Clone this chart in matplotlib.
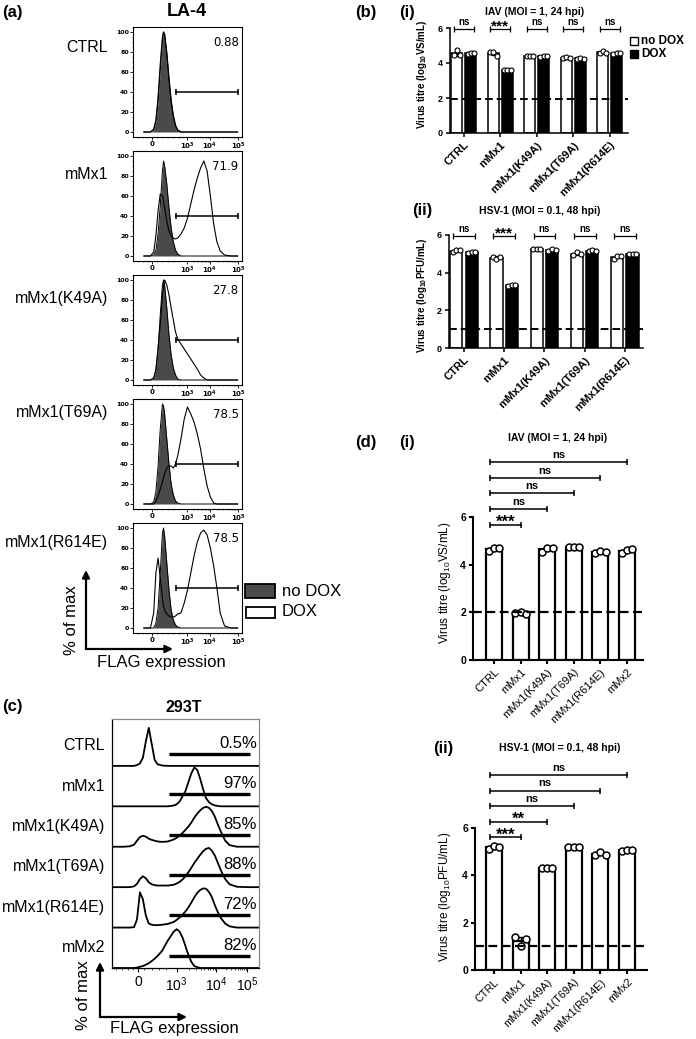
import numpy as np
import matplotlib.pyplot as plt
from matplotlib.patches import Rectangle

plt.rcParams['font.family'] = ['Liberation Sans', 'DejaVu Sans']
plt.rcParams['mathtext.fontset'] = 'custom'
plt.rcParams['mathtext.rm'] = 'Liberation Sans'
plt.rcParams['mathtext.bf'] = 'Liberation Sans:bold'
plt.rcParams['mathtext.default'] = 'regular'

W, H = 696, 1039

# ---- (a) LA-4 flow histograms (x in % of axis width, y in % of max)
a_samples = ['CTRL', 'mMx1', 'mMx1(K49A)', 'mMx1(T69A)', 'mMx1(R614E)']
a_gate_pct = ['0.88', '71.9', '27.8', '78.5', '78.5']
a_x = [10, 16, 19, 21, 23, 25, 27, 28, 29, 31, 33, 35, 37, 39, 41, 44,
       47, 50, 53, 56, 59, 62, 65, 68, 71, 74, 77, 80, 84, 90, 96]
a_nodox = [
    [0, 0, 2, 10, 30, 62, 92, 100, 97, 78, 52, 30, 15, 6, 2, 0] + [0] * 15,
    [0, 0, 1, 6, 22, 50, 85, 95, 90, 72, 48, 28, 14, 6, 2, 0] + [0] * 15,
    [0, 0, 2, 10, 30, 65, 95, 100, 95, 72, 45, 25, 12, 5, 1, 0] + [0] * 15,
    [0, 0, 2, 12, 38, 75, 100, 98, 90, 65, 40, 20, 9, 3, 1, 0] + [0] * 15,
    [0, 0, 0, 5, 20, 55, 95, 100, 92, 65, 38, 18, 8, 3, 1, 0] + [0] * 15,
]
a_dox = [
    [0, 0, 3, 12, 35, 68, 95, 100, 98, 80, 55, 32, 17, 7, 2, 0] + [0] * 15,
    [0, 0, 4, 20, 45, 62, 60, 55, 48, 35, 25, 20, 18, 17, 18, 22,
     28, 38, 52, 66, 78, 88, 95, 85, 60, 32, 14, 5, 1, 0, 0],
    [0, 0, 2, 10, 32, 55, 85, 95, 100, 95, 85, 72, 60, 48, 41, 36,
     31, 26, 21, 16, 11, 5, 2, 0, 0, 0, 0, 0, 0, 0, 0],
    [0, 0, 0, 3, 8, 15, 22, 26, 30, 36, 38, 38, 36, 40, 48, 65,
     85, 97, 90, 82, 70, 55, 35, 18, 7, 1, 0, 0, 0, 0, 0],
    [0, 0, 15, 55, 70, 50, 30, 22, 18, 14, 12, 11, 11, 12, 14, 15,
     25, 38, 55, 72, 86, 95, 98, 93, 80, 62, 40, 15, 2, 0, 0],
]
a_ticklabels = ['0', '$10^3$', '$10^4$', '$10^5$']

# ---- (c) 293T stacked histograms (y as fraction of row height)
c_samples = ['CTRL', 'mMx1', 'mMx1(K49A)', 'mMx1(T69A)', 'mMx1(R614E)', 'mMx2']
c_gate_pct = ['0.5%', '97%', '85%', '88%', '72%', '82%']
c_x = [0, 8, 12, 15, 17, 19, 21, 23, 25, 27, 29, 31, 34, 38, 42, 44, 46, 48,
       50, 52, 54, 56, 58, 60, 62, 64, 66, 68, 70, 72, 74, 77, 80, 85, 92, 100]
c_curves = [
    [0, 0, 0, 0, 0.02, 0.06, 0.2, 0.6, 0.94, 0.55, 0.15, 0.04, 0.01] + [0] * 23,
    [0] * 14 + [0.02, 0.05, 0.12, 0.25, 0.38, 0.6, 0.82, 0.96, 0.9, 0.68,
                0.42, 0.2, 0.1, 0.05, 0.02, 0.01, 0, 0, 0, 0, 0, 0],
    [0, 0, 0.01, 0.05, 0.15, 0.24, 0.27, 0.25, 0.2, 0.17, 0.15, 0.13, 0.12, 0.13,
     0.18, 0.22, 0.28, 0.34, 0.42, 0.5, 0.6, 0.72, 0.82, 0.9, 0.96, 0.99, 0.96,
     0.88, 0.74, 0.55, 0.38, 0.15, 0.04, 0, 0, 0],
    [0, 0, 0, 0.02, 0.08, 0.2, 0.27, 0.22, 0.12, 0.07, 0.05, 0.04, 0.04, 0.04,
     0.06, 0.09, 0.13, 0.19, 0.27, 0.37, 0.48, 0.6, 0.7, 0.8, 0.89, 0.95, 0.97,
     0.9, 0.78, 0.6, 0.42, 0.2, 0.07, 0.01, 0, 0],
    [0, 0, 0, 0.01, 0.2, 0.87, 0.7, 0.3, 0.1, 0.07, 0.06, 0.06, 0.07, 0.09,
     0.14, 0.19, 0.25, 0.32, 0.4, 0.5, 0.62, 0.75, 0.86, 0.93, 0.97, 0.96, 0.88,
     0.75, 0.55, 0.38, 0.24, 0.1, 0.03, 0, 0, 0],
    [0, 0, 0, 0, 0.01, 0.03, 0.05, 0.08, 0.12, 0.17, 0.23, 0.3, 0.42, 0.68,
     0.9, 0.96, 0.9, 0.75, 0.54, 0.32, 0.15, 0.05, 0.02, 0] + [0] * 12,
]

# ---- (b) virus titres, no DOX vs DOX
b_groups = ['CTRL', 'mMx1', 'mMx1(K49A)', 'mMx1(T69A)', 'mMx1(R614E)']
b_iav_nodox = [[4.45, 4.75, 4.45], [4.65, 4.65, 4.4], [4.38, 4.4, 4.38],
               [4.3, 4.32, 4.3], [4.55, 4.68, 4.6]]
b_iav_dox = [[4.5, 4.6, 4.55], [3.6, 3.62, 3.62], [4.35, 4.4, 4.38],
             [4.25, 4.28, 4.25], [4.5, 4.57, 4.57]]
b_iav_sig = ['ns', '***', 'ns', 'ns', 'ns']
b_iav_limit = 1.95
b_hsv_nodox = [[5.1, 5.2, 5.2], [4.85, 4.7, 4.85], [5.25, 5.25, 5.25],
               [4.95, 5.1, 5.0], [4.75, 4.9, 4.9]]
b_hsv_dox = [[5.05, 5.1, 5.1], [3.3, 3.35, 3.35], [5.15, 5.28, 5.2],
             [5.15, 5.2, 5.15], [5.0, 5.0, 5.0]]
b_hsv_sig = ['ns', '***', 'ns', 'ns', 'ns']
b_hsv_limit = 1.0

# ---- (d) virus titres, all constructs
d_groups = ['CTRL', 'mMx1', 'mMx1(K49A)', 'mMx1(T69A)', 'mMx1(R614E)', 'mMx2']
d_iav = [[4.58, 4.68, 4.68], [1.97, 2.0, 1.95], [4.55, 4.68, 4.68],
         [4.75, 4.75, 4.75], [4.5, 4.58, 4.55], [4.5, 4.63, 4.65]]
d_iav_sig = ['***', 'ns', 'ns', 'ns', 'ns']
d_iav_limit = 2.0
d_hsv = [[5.1, 5.25, 5.18], [1.4, 1.0, 1.3], [4.3, 4.3, 4.3],
         [5.2, 5.2, 5.2], [4.85, 4.97, 4.88], [5.03, 5.08, 5.05]]
d_hsv_sig = ['***', '**', 'ns', 'ns', 'ns']
d_hsv_limit = 1.0

fig = plt.figure(figsize=(W / 100, H / 100), dpi=100)


def fx(x):
    return x / W


def fy(y):
    return 1 - y / H


def px_axes(left, top, right, bottom):
    return fig.add_axes([left / W, 1 - bottom / H, (right - left) / W, (bottom - top) / H])


def ftext(x, y, s, **kw):
    fig.text(fx(x), fy(y), s, **kw)


def arrow(x0, y0, x1, y1):
    fig.add_artist(plt.Annotation('', xy=(fx(x1), fy(y1)), xytext=(fx(x0), fy(y0)),
                                  xycoords='figure fraction',
                                  arrowprops=dict(arrowstyle='-|>', lw=1.6, color='k',
                                                  mutation_scale=11, shrinkA=0, shrinkB=0)))


# ================= (a)
ftext(2, 12, '(a)', fontsize=12, fontweight='bold', va='center')
ftext(187, 12, 'LA-4', fontsize=13, fontweight='bold', ha='center', va='center')
a_label_y = [48, 175, 299, 413, 542]
a_ticks = [17.4, 49.5, 70.6, 96.3]
a_minor = [5, 9, 13, 22, 27, 32, 37, 42] + \
    [49.5 + 21.1 * np.log10(k) for k in range(2, 10)] + \
    [70.6 + 25.7 * np.log10(k) for k in range(2, 10)]
for i in range(5):
    top = 27 + 124 * i
    ax = px_axes(133, top, 242, top + 110)
    ax.fill_between(a_x, a_nodox[i], color='#4a4a4a', lw=0)
    ax.plot(a_x, a_nodox[i], color='k', lw=0.7)
    ax.plot(a_x, a_dox[i], color='k', lw=0.8)
    ax.plot([39, 96], [40, 40], color='k', lw=1.1, marker='|', ms=4, mew=1.1)
    ax.text(97, 90, a_gate_pct[i], ha='right', va='center', fontsize=8.5,
            family='DejaVu Sans')
    ax.set_xlim(0, 100)
    ax.set_ylim(-5, 105)
    ax.set_xticks(a_ticks)
    ax.set_xticklabels(a_ticklabels, fontsize=5, fontweight='bold', family='DejaVu Sans')
    ax.set_xticks(a_minor, minor=True)
    ax.set_yticks(range(0, 101, 20))
    ax.set_yticklabels([str(v) for v in range(0, 101, 20)], fontsize=4.5,
                       fontweight='bold', family='DejaVu Sans')
    ax.set_yticks(range(0, 101, 5), minor=True)
    ax.tick_params(length=2, width=0.6, pad=1)
    ax.tick_params(which='minor', length=1, width=0.4)
    for s in ax.spines.values():
        s.set_linewidth(0.8)
    ftext(108, a_label_y[i], a_samples[i], ha='right', va='center', fontsize=11.5)

fig.add_artist(Rectangle((fx(245), fy(598)), 30 / W, 14 / H, transform=fig.transFigure,
                         facecolor='#4a4a4a', edgecolor='k', lw=1.3))
fig.add_artist(Rectangle((fx(246), fy(618)), 29 / W, 11 / H, transform=fig.transFigure,
                         facecolor='white', edgecolor='k', lw=1.3))
ftext(282, 591, 'no DOX', fontsize=12, va='center')
ftext(282, 612, 'DOX', fontsize=12, va='center')
arrow(86, 649, 86, 570)
arrow(86, 649, 173, 649)
ftext(72, 620, '% of max', fontsize=12, rotation=90, ha='center', va='center')
ftext(161, 663, 'FLAG expression', fontsize=12, ha='center', va='center')

# ================= (c)
ftext(2, 706, '(c)', fontsize=12, fontweight='bold', va='center')
ftext(184, 707, '293T', fontsize=11.5, fontweight='bold', ha='center', va='center')
axc = px_axes(112, 719, 259, 968)
for i in range(6):
    base = 5 - i
    axc.plot(c_x, base + np.array(c_curves[i]), color='k', lw=1.3)
    axc.plot([39, 94], [base + 0.3, base + 0.3], color='k', lw=2.4, solid_capstyle='butt')
    axc.text(98.6, base + 0.56, c_gate_pct[i], ha='right', va='center', fontsize=12)
    axc.text(-0.048, base + 0.5, c_samples[i], transform=axc.get_yaxis_transform(),
             ha='right', va='center', fontsize=11.5)
axc.set_xlim(0, 100)
axc.set_ylim(0, 6.16)
axc.set_yticks([])
axc.set_xticks([17.7, 44, 71, 92])
axc.set_xticklabels(a_ticklabels, fontsize=10)
axc.set_xticks([3, 7, 11, 14, 22, 27, 32, 37] +
               [44 + 27 * np.log10(k) for k in range(2, 10)] +
               [71 + 21 * np.log10(k) for k in range(2, 10)], minor=True)
axc.tick_params(length=3, width=0.8, pad=2)
axc.tick_params(which='minor', length=1.5, width=0.5)
axc.spines['top'].set_color('#888888')
axc.spines['right'].set_color('#888888')
for s in axc.spines.values():
    s.set_linewidth(0.9)
arrow(100, 1017, 100, 962)
arrow(100, 1017, 187, 1017)
ftext(84, 995, '% of max', fontsize=12, rotation=90, ha='center', va='center')
ftext(174, 1029, 'FLAG expression', fontsize=12, ha='center', va='center')


# ================= bar chart helpers
def style_titre(ax, groups, fs_tick, fs_x, bold_x, lw):
    ax.spines['top'].set_visible(False)
    ax.spines['right'].set_visible(False)
    ax.spines['left'].set_linewidth(lw)
    ax.spines['bottom'].set_linewidth(lw)
    ax.set_ylim(0, 6)
    ax.set_yticks([0, 2, 4, 6])
    ax.set_yticklabels(['0', '2', '4', '6'], fontsize=fs_tick, fontweight='bold')
    ax.set_xticks(np.arange(len(groups)))
    ax.set_xticklabels(groups, rotation=45, ha='right', rotation_mode='anchor',
                       fontsize=fs_x, fontweight='bold' if bold_x else 'normal')
    ax.tick_params(length=3, width=lw, pad=2)


def bracket(ax, x1, x2, y, label, fs, lw, dy):
    ax.plot([x1, x2], [y, y], color='k', lw=lw, marker='|', ms=4, mew=lw, clip_on=False)
    stars = label.startswith('*')
    ax.annotate(label, xy=((x1 + x2) / 2, y), xytext=(0, -1.5 if stars else dy),
                textcoords='offset points', ha='center', va='baseline',
                fontsize=fs + 4 if stars else fs, fontweight='bold',
                annotation_clip=False)


def titre_pair(ax, nodox, dox, sig, limit):
    pos = np.arange(len(nodox))
    for vals, off, col in [(nodox, -0.19, 'white'), (dox, 0.19, 'black')]:
        means = np.array([np.mean(v) for v in vals])
        sds = np.array([np.std(v) for v in vals])
        ax.bar(pos + off, means, width=0.3, color=col, edgecolor='k', lw=1.1, zorder=2)
        ax.errorbar(pos + off, means, yerr=sds, fmt='none', ecolor='k', elinewidth=0.8,
                    capsize=1.5, zorder=3)
        for p, v in zip(pos, vals):
            ax.plot(p + off + np.array([-0.09, 0, 0.09]), v, 'o', ms=3.6, mfc='white',
                    mec='k', mew=0.8, zorder=4)
    ax.axhline(limit, color='k', lw=1.4, ls=(0, (4, 2)), zorder=5)
    for p, s in zip(pos, sig):
        bracket(ax, p - 0.27, p + 0.27, 5.97, s, 7, 0.9, 2.5)


def titre_single(ax, vals, sig, limit, y0):
    pos = np.arange(len(vals))
    means = np.array([np.mean(v) for v in vals])
    sds = np.array([np.std(v) for v in vals])
    ax.bar(pos, means, width=0.6, color='white', edgecolor='k', lw=1.6, zorder=2)
    ax.errorbar(pos, means, yerr=sds, fmt='none', ecolor='k', elinewidth=1,
                capsize=2.5, zorder=3)
    for p, v in zip(pos, vals):
        ax.plot(p + np.array([-0.2, 0, 0.2]), v, 'o', ms=5, mfc='white', mec='k',
                mew=1.1, zorder=4)
    ax.axhline(limit, color='k', lw=1.6, ls=(0, (4, 2)), zorder=5)
    for j, s in enumerate(sig):
        bracket(ax, -0.15, j + 1, y0 + 0.66 * j, s, 8, 1.1, 3)


# ================= (b)
ftext(355, 13, '(b)', fontsize=12, fontweight='bold', va='center')
ftext(399, 13, '(i)', fontsize=12, fontweight='bold', va='center')
ftext(535, 12, 'IAV (MOI = 1, 24 hpi)', fontsize=7.5, fontweight='bold',
      ha='center', va='center')
axb1 = px_axes(450, 28, 628, 133)
titre_pair(axb1, b_iav_nodox, b_iav_dox, b_iav_sig, b_iav_limit)
style_titre(axb1, b_groups, 6.5, 8, True, 1.1)
axb1.set_xlim(-0.38, 4.5)
ftext(422, 74, 'Virus titre (log$_{10}$VS/mL)', fontsize=7, fontweight='bold',
      rotation=90, ha='center', va='center')
fig.add_artist(Rectangle((fx(630), fy(45)), 8 / W, 8 / H, transform=fig.transFigure,
                         facecolor='white', edgecolor='k', lw=1))
fig.add_artist(Rectangle((fx(630), fy(58)), 8 / W, 8 / H, transform=fig.transFigure,
                         facecolor='black', edgecolor='k', lw=1))
ftext(641, 41, 'no DOX', fontsize=8.5, fontweight='bold', va='center')
ftext(641, 54, 'DOX', fontsize=8.5, fontweight='bold', va='center')

ftext(412, 210, '(ii)', fontsize=12, fontweight='bold', va='center')
ftext(540, 211, 'HSV-1 (MOI = 0.1, 48 hpi)', fontsize=7.5, fontweight='bold',
      ha='center', va='center')
axb2 = px_axes(449, 235, 643, 348)
titre_pair(axb2, b_hsv_nodox, b_hsv_dox, b_hsv_sig, b_hsv_limit)
style_titre(axb2, b_groups, 6.5, 8, True, 1.1)
axb2.set_xlim(-0.37, 4.45)
ftext(422, 295, 'Virus titre (log$_{10}$PFU/mL)', fontsize=7, fontweight='bold',
      rotation=90, ha='center', va='center')

# ================= (d)
ftext(355, 443, '(d)', fontsize=12, fontweight='bold', va='center')
ftext(399, 443, '(i)', fontsize=12, fontweight='bold', va='center')
ftext(558, 438, 'IAV (MOI = 1, 24 hpi)', fontsize=7.5, fontweight='bold',
      ha='center', va='center')
axd1 = px_axes(473, 517, 643, 660)
titre_single(axd1, d_iav, d_iav_sig, d_iav_limit, 5.67)
style_titre(axd1, d_groups, 7.5, 8, False, 1.5)
axd1.set_xlim(-0.79, 5.6)
ftext(445, 583, 'Virus titre (log$_{10}$VS/mL)', fontsize=8.5,
      rotation=90, ha='center', va='center')

ftext(433, 748, '(ii)', fontsize=12, fontweight='bold', va='center')
ftext(560, 748, 'HSV-1 (MOI = 0.1, 48 hpi)', fontsize=7.5, fontweight='bold',
      ha='center', va='center')
axd2 = px_axes(475, 828, 647, 970)
titre_single(axd2, d_hsv, d_hsv_sig, d_hsv_limit, 5.6)
style_titre(axd2, d_groups, 7.5, 7.8, False, 1.5)
axd2.set_xlim(-0.71, 5.75)
ftext(445, 897, 'Virus titre (log$_{10}$PFU/mL)', fontsize=8.5,
      rotation=90, ha='center', va='center')

fig.savefig('out.png', dpi=100)
